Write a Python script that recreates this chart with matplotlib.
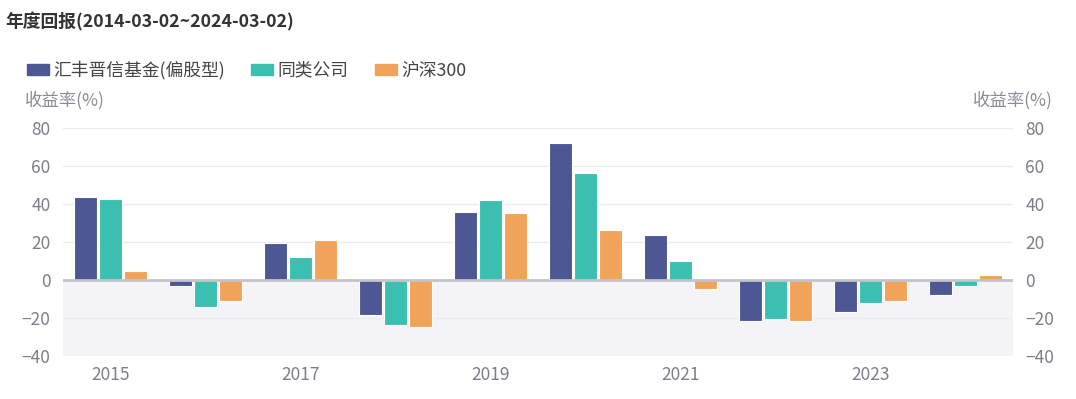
import matplotlib
matplotlib.use("Agg")
import matplotlib.pyplot as plt
import numpy as np
from matplotlib.patches import Rectangle

plt.rcParams['font.family'] = ['Noto Sans CJK SC', 'DejaVu Sans']

years = ['2015', '2016', '2017', '2018', '2019', '2020', '2021', '2022', '2023', '2024']
fund = [43.5, -3.4, 19.5, -18.3, 35.8, 72.1, 23.7, -21.6, -17.0, -7.9]
peers = [42.8, -14.4, 11.9, -23.5, 42.3, 56.5, 9.8, -20.5, -12.1, -3.4]
csi300 = [4.5, -10.9, 21.0, -24.9, 35.1, 26.5, -4.7, -21.4, -10.9, 2.4]
series_names = ['汇丰晋信基金(偏股型)', '同类公司', '沪深300']
colors = ['#4d5794', '#3bbfb1', '#f2a35a']
yticks = [-40, -20, 0, 20, 40, 60, 80]
title = '年度回报(2014-03-02~2024-03-02)'
ylabel = '收益率(%)'

fig = plt.figure(figsize=(10.76, 3.99), dpi=100)
ax = fig.add_axes([63/1076, 1-356/399, 950/1076, 228/399])

x = np.arange(len(years))
w = 0.245
step = 0.266
for i, (vals, c) in enumerate(zip([fund, peers, csi300], colors)):
    ax.bar(x + (i-1)*step, vals, width=w, color=c, edgecolor='white', linewidth=0.8, zorder=3)

ax.set_xlim(-0.5, len(years)-0.5)
ax.set_ylim(-40, 80)
ax.axhspan(-40, 0, color='#f4f4f7', zorder=0, linewidth=0)
for t in yticks:
    if t != 0:
        ax.axhline(t, color='#ebebf2', linewidth=1, zorder=1)
ax.axhline(0, color='#c3c3cb', linewidth=2, zorder=4)

for s in ax.spines.values():
    s.set_visible(False)
ax.set_yticks(yticks)
ax.tick_params(axis='y', length=0, labelsize=12.5, labelcolor='#7d7d8c', pad=9)
ax.set_xticks(x[::2])
ax.set_xticklabels(years[::2])
ax.tick_params(axis='x', length=0, labelsize=12.5, labelcolor='#7d7d8c', pad=7)

ax2 = ax.twinx()
ax2.set_ylim(-40, 80)
ax2.set_yticks(yticks)
for s in ax2.spines.values():
    s.set_visible(False)
ax2.tick_params(axis='y', length=0, labelsize=12.5, labelcolor='#7d7d8c', pad=9)

fig.text(5/1076, 1-22/399, title, fontsize=12.8, fontweight='bold', color='#333333', va='center', ha='left')
fig.text(25/1076, 1-100/399, ylabel, fontsize=12.5, color='#8a8a98', va='center', ha='left')
fig.text(1053/1076, 1-100/399, ylabel, fontsize=12.5, color='#8a8a98', va='center', ha='right')

# legend
handles = [Rectangle((0, 0), 1, 1, color=c) for c in colors]
leg = fig.legend(handles, series_names, loc='center left', bbox_to_anchor=(11/1076, 1-70/399),
                 ncol=3, frameon=False, fontsize=12.8, handlelength=1.25, handleheight=0.6,
                 handletextpad=0.25, columnspacing=1.45, labelcolor='#444444')

fig.savefig('out.png', dpi=100)
